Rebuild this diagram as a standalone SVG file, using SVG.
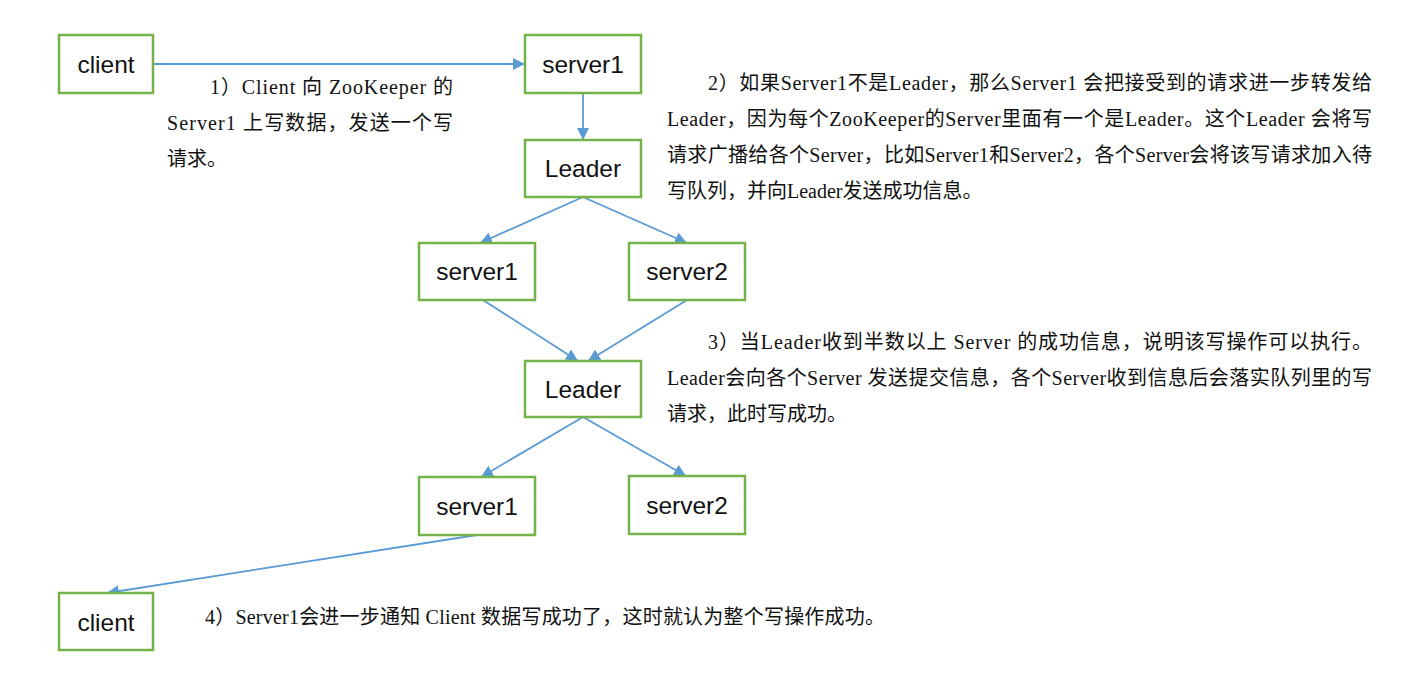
<svg xmlns="http://www.w3.org/2000/svg" width="1420" height="684" viewBox="0 0 1420 684">
<defs>
<marker id="ah" viewBox="0 0 10 10" refX="10" refY="5" markerWidth="12" markerHeight="12" markerUnits="userSpaceOnUse" orient="auto">
<path d="M0,0 L10,5 L0,10 z" fill="#5b9bd5"/>
</marker>
</defs>
<style>
.box{fill:#fff;stroke:#74b24a;stroke-width:2.5}
.lbl{font-family:"Liberation Sans",Arial,sans-serif;font-size:24.5px;fill:#111;text-anchor:middle}
.cn{stroke:#5b9bd5;stroke-width:1.8;fill:none;marker-end:url(#ah)}
.t{font-family:"Liberation Serif","Noto Sans CJK SC",serif;font-size:20px;fill:#111}
</style>
<rect width="1420" height="684" fill="#fff"/>
<g id="connectors">
<path class="cn" d="M153,64 L525,64"/>
<path class="cn" d="M583,93 L583,140"/>
<path class="cn" d="M583,197 L480,243"/>
<path class="cn" d="M583,197 L687,243"/>
<path class="cn" d="M483,300 L578,361"/>
<path class="cn" d="M687,300 L588,361"/>
<path class="cn" d="M583,417 L481,477"/>
<path class="cn" d="M583,417 L686,476"/>
<path class="cn" d="M477,535 L107,593"/>
</g>
<g id="client1"><rect class="box" x="59" y="35" width="94" height="58"/><text class="lbl" x="106" y="73">client</text></g>
<g id="server1a"><rect class="box" x="525" y="35" width="116" height="58"/><text class="lbl" x="583" y="73">server1</text></g>
<g id="leader1"><rect class="box" x="525" y="140" width="116" height="57"/><text class="lbl" x="583" y="177">Leader</text></g>
<g id="server1b"><rect class="box" x="419" y="243" width="116" height="57"/><text class="lbl" x="477" y="280">server1</text></g>
<g id="server2b"><rect class="box" x="629" y="243" width="116" height="57"/><text class="lbl" x="687" y="280">server2</text></g>
<g id="leader2"><rect class="box" x="525" y="361" width="116" height="56"/><text class="lbl" x="583" y="398">Leader</text></g>
<g id="server1c"><rect class="box" x="419" y="477" width="116" height="58"/><text class="lbl" x="477" y="515">server1</text></g>
<g id="server2c"><rect class="box" x="629" y="476" width="116" height="58"/><text class="lbl" x="687" y="514">server2</text></g>
<g id="client2"><rect class="box" x="59" y="593" width="94" height="57"/><text class="lbl" x="106" y="631">client</text></g>
<g id="note1">
<text class="t" x="210" y="94" textLength="243" lengthAdjust="spacing">1）Client 向 ZooKeeper 的</text>
<text class="t" x="167" y="130" textLength="286" lengthAdjust="spacing">Server1 上写数据，发送一个写</text>
<text class="t" x="167" y="166">请求。</text>
</g>
<g id="note2">
<text class="t" x="708" y="90" textLength="664" lengthAdjust="spacing">2）如果Server1不是Leader，那么Server1 会把接受到的请求进一步转发给</text>
<text class="t" x="667" y="126" textLength="705" lengthAdjust="spacing">Leader，因为每个ZooKeeper的Server里面有一个是Leader。这个Leader 会将写</text>
<text class="t" x="667" y="162" textLength="705" lengthAdjust="spacing">请求广播给各个Server，比如Server1和Server2，各个Server会将该写请求加入待</text>
<text class="t" x="667" y="198">写队列，并向Leader发送成功信息。</text>
</g>
<g id="note3">
<text class="t" x="708" y="349" textLength="664" lengthAdjust="spacing">3）当Leader收到半数以上 Server 的成功信息，说明该写操作可以执行。</text>
<text class="t" x="667" y="385" textLength="705" lengthAdjust="spacing">Leader会向各个Server 发送提交信息，各个Server收到信息后会落实队列里的写</text>
<text class="t" x="667" y="421">请求，此时写成功。</text>
</g>
<g id="note4">
<text class="t" x="205" y="624" textLength="680" lengthAdjust="spacing">4）Server1会进一步通知 Client 数据写成功了，这时就认为整个写操作成功。</text>
</g>
</svg>
